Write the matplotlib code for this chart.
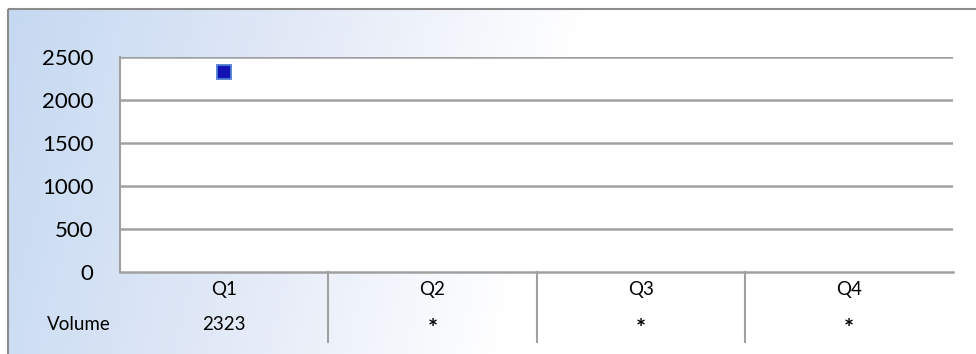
import numpy as np
import matplotlib
matplotlib.use("Agg")
import matplotlib.pyplot as plt
from matplotlib.colors import LinearSegmentedColormap
from matplotlib.patches import Rectangle
from matplotlib.lines import Line2D

categories = ["Q1", "Q2", "Q3", "Q4"]
volume = [2323, np.nan, np.nan, np.nan]
volume_labels = ["2323", "*", "*", "*"]
row_label = "Volume"
yticks = [0, 500, 1000, 1500, 2000, 2500]

W, H = 976, 354
fig = plt.figure(figsize=(W / 100, H / 100), dpi=100)
plt.rcParams['font.family'] = ['Lato', 'DejaVu Sans']

# background gradient
bg = fig.add_axes([0, 0, 1, 1])
bg.set_xlim(0, W)
bg.set_ylim(H, 0)
bg.axis('off')
xx, yy = np.meshgrid(np.linspace(0, 1, 400), np.linspace(0, 1, 150))
t = np.clip(xx * 1.68 + yy * 0.15, 0, 1)
cmap = LinearSegmentedColormap.from_list("g", ["#c5d9f1", "#e2e9f7", "#ffffff"])
bg.imshow(t, cmap=cmap, extent=[8, W + 5, H + 5, 9], aspect='auto', zorder=0)
bg.add_patch(Rectangle((8, 9), W, H, fill=False, edgecolor="#8c8c8c", linewidth=1.5, zorder=1))

ax = fig.add_axes([120 / W, (H - 272) / H, (953 - 120) / W, (272 - 57) / H])
ax.set_facecolor("white")
x = np.arange(len(categories))
ax.plot(x, volume, linestyle='none', marker='s', markersize=9.5,
        markerfacecolor="#1414b4", markeredgecolor="#4f7fd0", markeredgewidth=1.3, zorder=5)
ax.set_xlim(-0.5, len(categories) - 0.5)
ax.set_ylim(0, 2500)
ax.set_yticks(yticks)
ax.set_yticklabels([str(v) for v in yticks], fontsize=16)
ax.tick_params(axis='y', length=0, pad=19)
ax.set_xticks([])
for v in yticks[1:]:
    ax.axhline(v, color="#a0a0a0", linewidth=1.8, zorder=1)
for s in ['top', 'right']:
    ax.spines[s].set_visible(False)
ax.spines['left'].set_color("#a0a0a0")
ax.spines['left'].set_linewidth(1.5)
ax.spines['bottom'].set_color("#a0a0a0")
ax.spines['bottom'].set_linewidth(1.8)

tr = ax.get_xaxis_transform()
axh = 272 - 57
for i, c in enumerate(categories):
    ax.text(i, -(290 - 272) / axh, c, transform=tr, ha='center', va='center', fontsize=13.5, clip_on=False)
    lab = volume_labels[i]
    if lab == "*":
        ax.text(i, -(329 - 272) / axh, lab, transform=tr, ha='center', va='center',
                fontsize=17, fontweight='bold', clip_on=False)
    else:
        ax.text(i, -(325 - 272) / axh, lab, transform=tr, ha='center', va='center', fontsize=13.5, clip_on=False)
ax.text(-0.5 - (120 - 79) / ((953 - 120) / 4), -(325 - 272) / axh, row_label, transform=tr,
        ha='center', va='center', fontsize=13.5, clip_on=False)
for i in range(len(categories) - 1):
    ax.add_line(Line2D([i + 0.5, i + 0.5], [0, -(342 - 272) / axh], transform=tr,
                       color="#a0a0a0", linewidth=1.5, clip_on=False))

fig.savefig("out.png", dpi=100)
